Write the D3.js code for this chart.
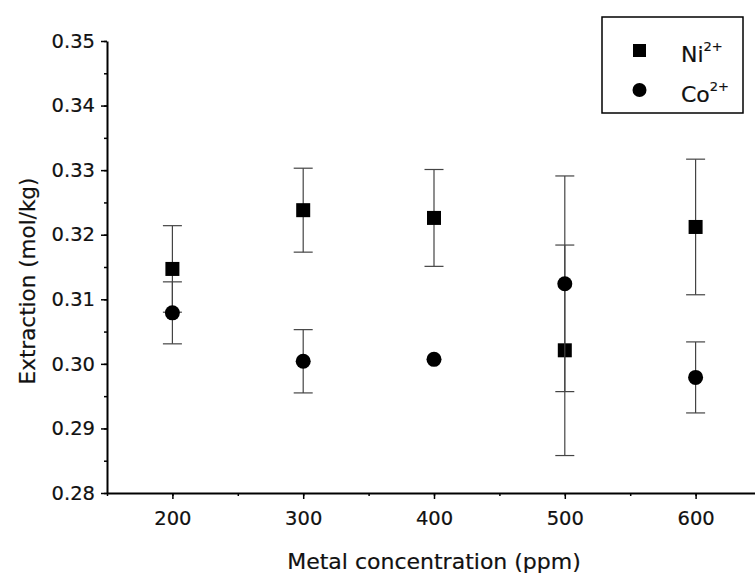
<html>
<style>
body { margin: 0; background: #fff; }
text { font-family: "DejaVu Sans", Verdana, sans-serif; fill: #111; stroke: #111; stroke-width: 0.2px; }
.axis path, .axis line { stroke: #000; }
.errbar { stroke: #444; stroke-width: 1.2px; }
</style>
<svg width="755" height="573"></svg>
<script src="https://d3js.org/d3.v7.min.js"></script>
<script>

var concentrations = [200, 300, 400, 500, 600];
var niValues = [0.3147, 0.3238, 0.3226, 0.3021, 0.3212];
var niErrors = [0.0067, 0.0065, 0.0075, 0.0163, 0.0105];
var coValues = [0.3079, 0.3004, 0.3007, 0.3124, 0.2979];
var coErrors = [0.0048, 0.0049, 0, 0.0167, 0.0055];
var xTicks = [200, 300, 400, 500, 600];
var yTicks = [0.28, 0.29, 0.30, 0.31, 0.32, 0.33, 0.34, 0.35];

var svg = d3.select("svg"),
    margin = {top: 41, left: 107},
    width = 654,
    height = 452,
    g = svg.append("g").attr("transform", "translate(" + margin.left + "," + margin.top + ")");

var x = d3.scaleLinear().domain([150, 650]).range([0, width]);
var y = d3.scaleLinear().domain([0.28, 0.35]).range([height, 0]);

// minor ticks first, then major ones with labels
g.append("g")
    .attr("class", "axis")
    .attr("transform", "translate(0," + height + ")")
    .call(d3.axisBottom(x).tickValues(d3.range(150, 651, 50)).tickSize(3).tickFormat(""))
    .call(function(a) { a.select(".domain").remove(); });

g.append("g")
    .attr("class", "axis")
    .call(d3.axisLeft(y).tickValues(d3.range(0.28, 0.3501, 0.005)).tickSize(3).tickFormat(""))
    .call(function(a) { a.select(".domain").remove(); });

var xAxis = g.append("g")
    .attr("class", "axis")
    .attr("transform", "translate(0," + height + ")")
    .call(d3.axisBottom(x).tickValues(xTicks).tickSize(6).tickSizeOuter(0).tickPadding(12));

var yAxis = g.append("g")
    .attr("class", "axis")
    .call(d3.axisLeft(y).tickValues(yTicks).tickSize(6).tickSizeOuter(0).tickPadding(6)
      .tickFormat(d3.format(".2f")));

g.selectAll(".axis path").attr("stroke-width", 2);
g.selectAll(".axis line").attr("stroke-width", 1.5);
g.selectAll(".axis text").style("font-size", "19.5px").attr("fill", "#111");

// axis titles
svg.append("text")
    .attr("x", margin.left + x(400))
    .attr("y", 569)
    .attr("text-anchor", "middle")
    .style("font-size", "22px")
    .text("Metal concentration (ppm)");

svg.append("text")
    .attr("transform", "translate(35," + 281 + ") rotate(-90)")
    .attr("text-anchor", "middle")
    .style("font-size", "21.5px")
    .text("Extraction (mol/kg)");

var ni = concentrations.map(function(c, i) { return {x: c, v: niValues[i], e: niErrors[i]}; });
var co = concentrations.map(function(c, i) { return {x: c, v: coValues[i], e: coErrors[i]}; });

function drawErrors(data) {
  var eb = g.append("g").attr("class", "errbar")
    .selectAll("g")
    .data(data.filter(function(d) { return d.e > 0; }))
    .enter().append("g");
  eb.append("line")
    .attr("x1", function(d) { return x(d.x); })
    .attr("x2", function(d) { return x(d.x); })
    .attr("y1", function(d) { return y(d.v - d.e); })
    .attr("y2", function(d) { return y(d.v + d.e); });
  [-1, 1].forEach(function(s) {
    eb.append("line")
      .attr("x1", function(d) { return x(d.x) - 9.5; })
      .attr("x2", function(d) { return x(d.x) + 9.5; })
      .attr("y1", function(d) { return y(d.v + s * d.e); })
      .attr("y2", function(d) { return y(d.v + s * d.e); });
  });
}

drawErrors(ni);
g.append("g").selectAll("rect")
    .data(ni)
  .enter().append("rect")
    .attr("x", function(d) { return x(d.x) - 7; })
    .attr("y", function(d) { return y(d.v) - 7; })
    .attr("width", 14)
    .attr("height", 14)
    .attr("fill", "#000");

drawErrors(co);
g.append("g").selectAll("circle")
    .data(co)
  .enter().append("circle")
    .attr("cx", function(d) { return x(d.x); })
    .attr("cy", function(d) { return y(d.v); })
    .attr("r", 7.5)
    .attr("fill", "#000");

// legend
var lg = svg.append("g");
lg.append("rect")
    .attr("x", 602).attr("y", 17)
    .attr("width", 141).attr("height", 96)
    .attr("fill", "#fff").attr("stroke", "#000").attr("stroke-width", 1.5);
lg.append("rect")
    .attr("x", 633).attr("y", 44).attr("width", 13).attr("height", 13).attr("fill", "#000");
lg.append("circle")
    .attr("cx", 639.5).attr("cy", 90).attr("r", 7).attr("fill", "#000");

var labels = [["Ni", 62], ["Co", 102]];
labels.forEach(function(l) {
  var t = lg.append("text").attr("x", 681).attr("y", l[1]).style("font-size", "22px");
  t.append("tspan").text(l[0]);
  t.append("tspan").attr("dy", -11).style("font-size", "13px").text("2+");
});

</script>
</html>
